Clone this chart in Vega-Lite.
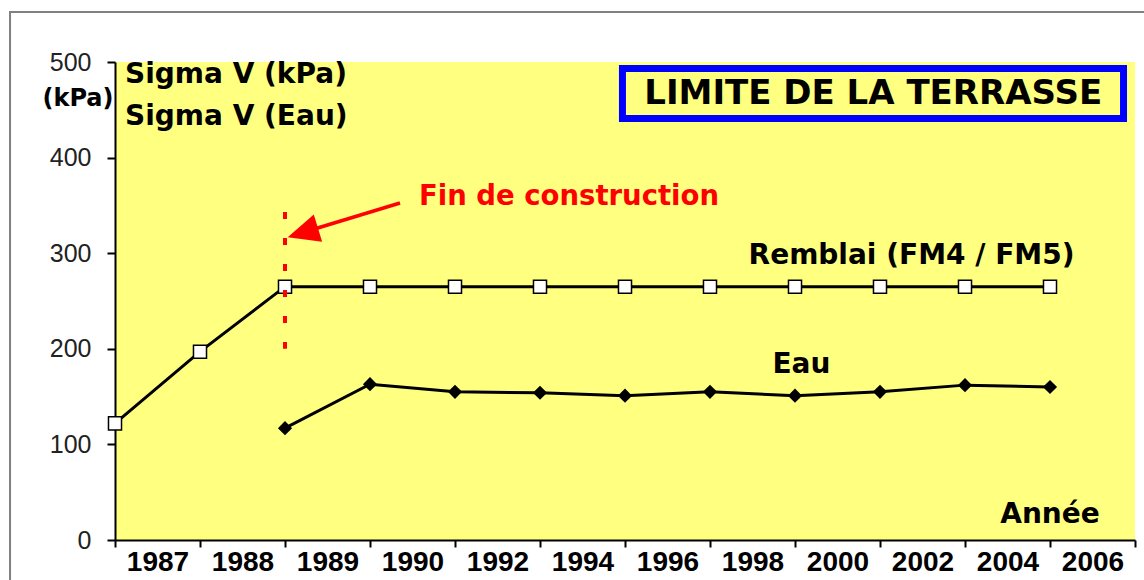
{
  "$schema": "https://vega.github.io/schema/vega-lite/v6.json",
  "width": 1020,
  "height": 478,
  "autosize": {"type": "none"},
  "padding": {"left": 115, "top": 62, "right": 9, "bottom": 40},
  "background": "white",
  "config": {
    "view": {"fill": "#FFFF80", "stroke": null},
    "axis": {"grid": false, "domainColor": "black", "tickColor": "black", "labelColor": "black"}
  },
  "data": {
    "values": [
      {"i": 0, "annee": "1987", "remblai": 122, "eau": null},
      {"i": 1, "annee": "1988", "remblai": 197, "eau": null},
      {"i": 2, "annee": "1989", "remblai": 265, "eau": 117},
      {"i": 3, "annee": "1990", "remblai": 265, "eau": 163},
      {"i": 4, "annee": "1992", "remblai": 265, "eau": 155},
      {"i": 5, "annee": "1994", "remblai": 265, "eau": 154},
      {"i": 6, "annee": "1996", "remblai": 265, "eau": 151},
      {"i": 7, "annee": "1998", "remblai": 265, "eau": 155},
      {"i": 8, "annee": "2000", "remblai": 265, "eau": 151},
      {"i": 9, "annee": "2002", "remblai": 265, "eau": 155},
      {"i": 10, "annee": "2004", "remblai": 265, "eau": 162},
      {"i": 11, "annee": "2006", "remblai": 265, "eau": 160}
    ]
  },
  "layer": [
    {
      "data": {"values": [{}]},
      "mark": {"type": "rect", "fill": null, "stroke": "#808080", "strokeWidth": 2, "clip": false},
      "encoding": {
        "x": {"datum": -1.235, "type": "quantitative", "scale": {"domain": [0, 12], "nice": false, "zero": false}},
        "x2": {"datum": 12.4},
        "y": {"datum": 552.3, "type": "quantitative", "scale": {"domain": [0, 500], "nice": false}},
        "y2": {"datum": -80}
      }
    },
    {
      "mark": {"type": "line", "color": "black", "strokeWidth": 3},
      "encoding": {
        "x": {
          "field": "i", "type": "quantitative",
          "scale": {"domain": [0, 12], "nice": false, "zero": false},
          "axis": {
            "title": null,
            "values": [0, 0.5, 1, 1.5, 2, 2.5, 3, 3.5, 4, 4.5, 5, 5.5, 6, 6.5, 7, 7.5, 8, 8.5, 9, 9.5, 10, 10.5, 11, 11.5, 12],
            "labelExpr": "datum.value % 1 != 0 ? ['1987','1988','1989','1990','1992','1994','1996','1998','2000','2002','2004','2006'][floor(datum.value)] : ''",
            "tickOpacity": {"condition": {"test": "datum.value % 1 != 0", "value": 0}, "value": 1},
            "tickSize": 7, "tickWidth": 2,
            "domainWidth": 2,
            "labelPadding": 1,
            "labelFont": "Liberation Sans", "labelFontWeight": "bold", "labelFontSize": 28,
            "labelFlush": false, "labelOverlap": false, "labelBound": false
          }
        },
        "y": {
          "field": "remblai", "type": "quantitative",
          "scale": {"domain": [0, 500], "nice": false},
          "axis": {
            "values": [0, 100, 200, 300, 400, 500],
            "title": "(kPa)", "titleAngle": 0, "titleX": -2, "titleY": 36,
            "titleAlign": "right", "titleBaseline": "middle",
            "titleFont": "DejaVu Sans", "titleFontWeight": "bold", "titleFontSize": 24, "titleColor": "black",
            "tickSize": 8, "tickWidth": 2, "domainWidth": 2,
            "labelPadding": 16,
            "labelFont": "Liberation Sans", "labelFontSize": 25, "labelColor": "#222222",
            "labelFlush": false
          }
        }
      }
    },
    {
      "mark": {"type": "point", "shape": "square", "size": 170, "filled": true, "fill": "white", "stroke": "black", "strokeWidth": 1.5, "opacity": 1},
      "encoding": {
        "x": {"field": "i", "type": "quantitative"},
        "y": {"field": "remblai", "type": "quantitative"}
      }
    },
    {
      "mark": {"type": "line", "color": "black", "strokeWidth": 3},
      "encoding": {
        "x": {"field": "i", "type": "quantitative"},
        "y": {"field": "eau", "type": "quantitative"}
      }
    },
    {
      "mark": {"type": "point", "shape": "diamond", "size": 200, "filled": true, "color": "black", "opacity": 1},
      "encoding": {
        "x": {"field": "i", "type": "quantitative"},
        "y": {"field": "eau", "type": "quantitative"}
      }
    },
    {
      "data": {"values": [{}]},
      "mark": {"type": "rule", "color": "#FF0000", "strokeWidth": 4, "strokeDash": [7, 19]},
      "encoding": {
        "x": {"datum": 2, "type": "quantitative"},
        "y": {"datum": 343, "type": "quantitative"},
        "y2": {"datum": 200}
      }
    },
    {
      "data": {"values": [{}]},
      "mark": {"type": "rule", "color": "#FF0000", "strokeWidth": 3.5},
      "encoding": {
        "x": {"datum": 3.353, "type": "quantitative"},
        "y": {"datum": 352.5, "type": "quantitative"},
        "x2": {"datum": 2.2},
        "y2": {"datum": 321.4}
      }
    },
    {
      "data": {"values": [{}]},
      "mark": {"type": "point", "shape": "M0,-1L0.9,1L-0.9,1Z", "size": 1000, "angle": 253, "filled": true, "color": "#FF0000", "opacity": 1},
      "encoding": {
        "x": {"datum": 2.21, "type": "quantitative"},
        "y": {"datum": 321.4, "type": "quantitative"}
      }
    },
    {
      "data": {"values": [{}]},
      "mark": {"type": "rect", "fill": null, "stroke": "#0000FF", "strokeWidth": 7},
      "encoding": {
        "x": {"datum": 5.97, "type": "quantitative"},
        "x2": {"datum": 11.865},
        "y": {"datum": 493.2, "type": "quantitative"},
        "y2": {"datum": 440.9}
      }
    },
    {
      "data": {"values": [{"t": "LIMITE DE LA TERRASSE"}]},
      "mark": {"type": "text", "font": "DejaVu Sans", "fontWeight": "bold", "fontSize": 34, "color": "black", "align": "center", "baseline": "middle"},
      "encoding": {
        "x": {"datum": 8.92, "type": "quantitative"},
        "y": {"datum": 467, "type": "quantitative"},
        "text": {"field": "t"}
      }
    },
    {
      "data": {"values": [{"t": "Sigma V (kPa)", "y": 486}, {"t": "Sigma V (Eau)", "y": 442}]},
      "mark": {"type": "text", "font": "DejaVu Sans", "fontWeight": "bold", "fontSize": 28, "color": "black", "align": "left", "baseline": "middle"},
      "encoding": {
        "x": {"datum": 0.118, "type": "quantitative"},
        "y": {"field": "y", "type": "quantitative"},
        "text": {"field": "t"}
      }
    },
    {
      "data": {"values": [{"t": "Fin de construction"}]},
      "mark": {"type": "text", "font": "DejaVu Sans", "fontWeight": "bold", "fontSize": 27.5, "color": "#FF0000", "align": "center", "baseline": "middle"},
      "encoding": {
        "x": {"datum": 5.341, "type": "quantitative"},
        "y": {"datum": 358.8, "type": "quantitative"},
        "text": {"field": "t"}
      }
    },
    {
      "data": {"values": [{"t": "Remblai (FM4 / FM5)", "x": 9.371, "y": 297}, {"t": "Eau", "x": 8.076, "y": 183}, {"t": "Année", "x": 11.0, "y": 26.2}]},
      "mark": {"type": "text", "font": "DejaVu Sans", "fontWeight": "bold", "fontSize": 28, "color": "black", "align": "center", "baseline": "middle"},
      "encoding": {
        "x": {"field": "x", "type": "quantitative"},
        "y": {"field": "y", "type": "quantitative"},
        "text": {"field": "t"}
      }
    }
  ]
}
